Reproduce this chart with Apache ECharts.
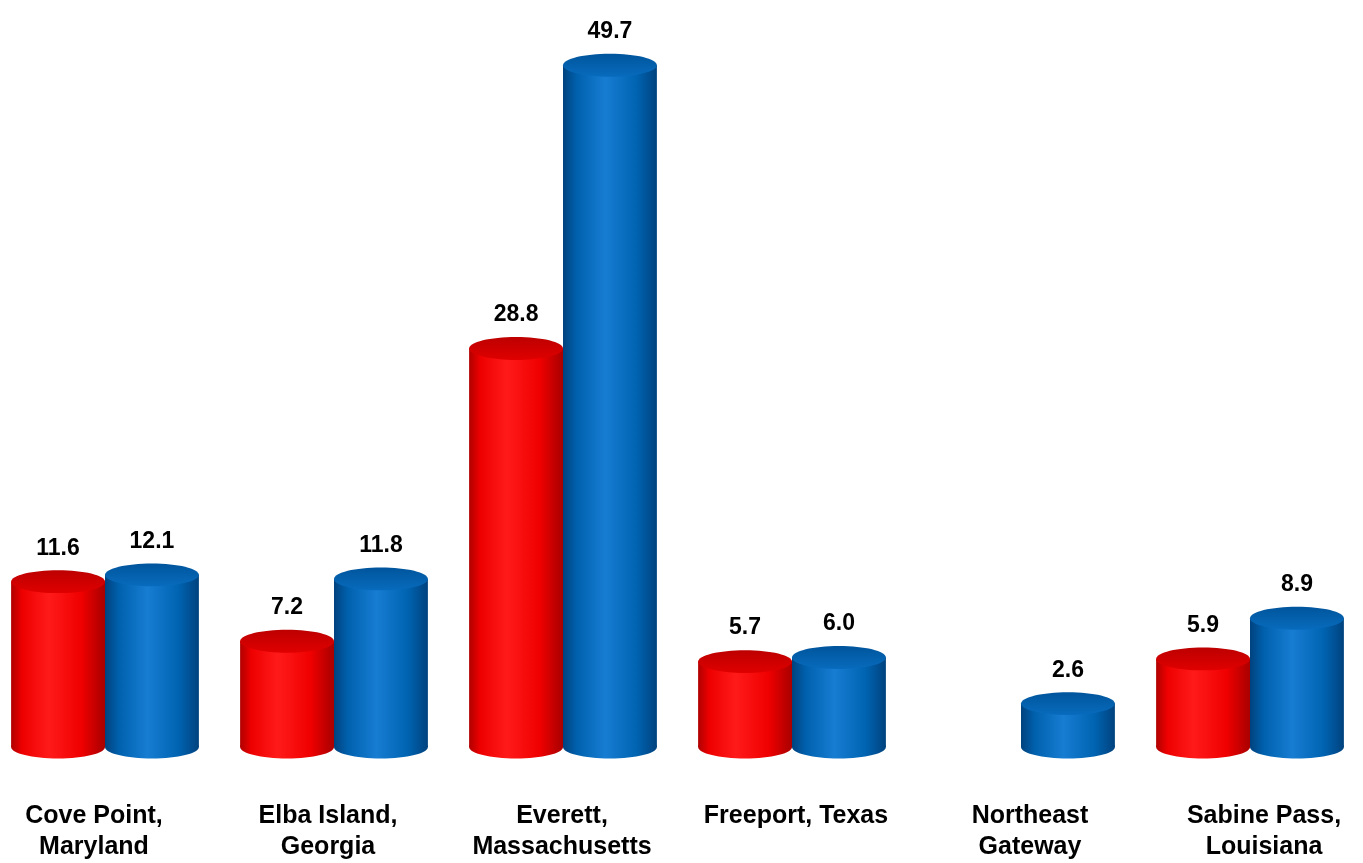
<!DOCTYPE html>
<html>
<head>
<meta charset="utf-8">
<script src="https://cdn.jsdelivr.net/npm/echarts@6/dist/echarts.min.js"></script>
<style>
  html, body { margin: 0; padding: 0; background: #fff; overflow: hidden; }
  /* the plot runs slightly past the window edges, so the box is shifted left */
  #chart { position: absolute; left: -23px; top: 0; width: 1404px; height: 863px; }
</style>
</head>
<body>
<div id="chart"></div>
<script>
// terminals and the two series (red = first period, blue = second period)
const categories = [
  "Cove Point,\nMaryland",
  "Elba Island,\nGeorgia",
  "Everett,\nMassachusetts",
  "Freeport, Texas",
  "Northeast\nGateway",
  "Sabine Pass,\nLouisiana",
];
const redValues = [11.6, 7.2, 28.8, 5.7, null, 5.9];
const blueValues = [12.1, 11.8, 49.7, 6.0, 2.6, 8.9];

const Y_MIN = -0.6;
const Y_MAX = 52;
const FONT = "'Liberation Sans', Arial, sans-serif";

const redStyle = {
  side: [
    { offset: 0, color: "#b00000" },
    { offset: 0.12, color: "#ee0000" },
    { offset: 0.4, color: "#ff1a1a" },
    { offset: 0.75, color: "#f00000" },
    { offset: 1, color: "#a80000" },
  ],
  top: [
    { offset: 0, color: "#bd0000" },
    { offset: 1, color: "#e00000" },
  ],
};
const blueStyle = {
  side: [
    { offset: 0, color: "#00427e" },
    { offset: 0.15, color: "#0061ae" },
    { offset: 0.45, color: "#177dd2" },
    { offset: 0.78, color: "#0064b2" },
    { offset: 1, color: "#00427e" },
  ],
  top: [
    { offset: 0, color: "#00559c" },
    { offset: 1, color: "#086bbd" },
  ],
};

// draws one cylinder per data item, side is -1 (left slot) or 1 (right slot)
function cylinder(style, side) {
  return function (params, api) {
    const cat = api.value(0);
    const v = api.value(1);
    if (isNaN(v)) return;
    const top = api.coord([cat, v]);
    const base = api.coord([cat, Y_MIN]);
    const band = api.size([1, 0])[0];
    const w = band * 0.41;
    const rx = w / 2;
    const ry = w * 0.122;
    const cx = top[0] + side * rx;
    const sideFill = new echarts.graphic.LinearGradient(0, 0, 1, 0, style.side);
    const topFill = new echarts.graphic.LinearGradient(0, 0, 0, 1, style.top);
    return {
      type: "group",
      children: [
        {
          type: "ellipse",
          shape: { cx: cx, cy: base[1], rx: rx, ry: ry },
          style: { fill: sideFill },
        },
        {
          type: "rect",
          shape: { x: cx - rx, y: top[1], width: w, height: base[1] - top[1] },
          style: { fill: sideFill },
        },
        {
          type: "ellipse",
          shape: { cx: cx, cy: top[1], rx: rx, ry: ry },
          style: { fill: topFill },
        },
        {
          type: "text",
          style: {
            x: cx,
            y: top[1] - ry - 22,
            text: v.toFixed(1),
            align: "center",
            verticalAlign: "middle",
            fill: "#000",
            font: "bold 23px " + FONT,
          },
        },
      ],
    };
  };
}

const chart = echarts.init(document.getElementById("chart"));
chart.setOption({
  animation: false,
  grid: [
    { left: 13.5, right: 16.5, top: 34, bottom: 116 },
    // only used to place the category labels
    { left: 0, right: 0, top: 34, bottom: 116 },
  ],
  xAxis: [
    {
      type: "category",
      gridIndex: 0,
      data: categories,
      axisLine: { show: false },
      axisTick: { show: false },
      axisLabel: { show: false },
    },
    {
      type: "category",
      gridIndex: 1,
      data: categories,
      axisLine: { show: false },
      axisTick: { show: false },
      axisLabel: {
        margin: 55,
        color: "#000",
        fontSize: 25,
        fontWeight: "bold",
        fontFamily: FONT,
        lineHeight: 31,
        interval: 0,
      },
    },
  ],
  yAxis: [
    { type: "value", gridIndex: 0, min: Y_MIN, max: Y_MAX, show: false },
    { type: "value", gridIndex: 1, min: 0, max: 1, show: false },
  ],
  series: [
    {
      name: "red",
      type: "custom",
      xAxisIndex: 0,
      yAxisIndex: 0,
      renderItem: cylinder(redStyle, -1),
      encode: { x: 0, y: 1 },
      data: redValues.map((v, i) => [i, v == null ? "-" : v]),
      clip: false,
    },
    {
      name: "blue",
      type: "custom",
      xAxisIndex: 0,
      yAxisIndex: 0,
      renderItem: cylinder(blueStyle, 1),
      encode: { x: 0, y: 1 },
      data: blueValues.map((v, i) => [i, v]),
      clip: false,
    },
  ],
});
</script>
</body>
</html>
